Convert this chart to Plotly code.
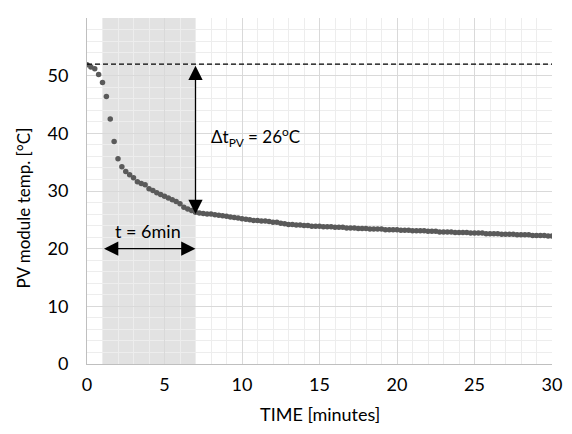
import plotly.graph_objects as go

# sample times [minutes] and PV module temperature [C]
time_min = [
    0.0, 0.25, 0.5, 0.75, 1.0, 1.25, 1.5, 1.75, 2.0, 2.25, 2.5, 2.75,
    3.0, 3.25, 3.5, 3.75, 4.0, 4.25, 4.5, 4.75, 5.0, 5.25, 5.5, 5.75,
    6.0, 6.25, 6.5, 6.75, 7.0, 7.25, 7.5, 7.75, 8.0, 8.25, 8.5, 8.75,
    9.0, 9.25, 9.5, 9.75, 10.0, 10.25, 10.5, 10.75, 11.0, 11.25, 11.5, 11.75,
    12.0, 12.25, 12.5, 12.75, 13.0, 13.25, 13.5, 13.75, 14.0, 14.25, 14.5, 14.75,
    15.0, 15.25, 15.5, 15.75, 16.0, 16.25, 16.5, 16.75, 17.0, 17.25, 17.5, 17.75,
    18.0, 18.25, 18.5, 18.75, 19.0, 19.25, 19.5, 19.75, 20.0, 20.25, 20.5, 20.75,
    21.0, 21.25, 21.5, 21.75, 22.0, 22.25, 22.5, 22.75, 23.0, 23.25, 23.5, 23.75,
    24.0, 24.25, 24.5, 24.75, 25.0, 25.25, 25.5, 25.75, 26.0, 26.25, 26.5, 26.75,
    27.0, 27.25, 27.5, 27.75, 28.0, 28.25, 28.5, 28.75, 29.0, 29.25, 29.5, 29.75,
    30.0,
]
temp_pv = [
    51.9, 51.5, 51.2, 50.2, 48.8, 46.4, 42.5, 38.6, 35.6, 34.2, 33.4, 32.8,
    32.3, 31.6, 31.3, 31.1, 30.4, 30.1, 29.7, 29.4, 29.1, 28.8, 28.5, 28.2,
    27.8, 27.2, 26.9, 26.6, 26.3, 26.2, 26.1, 26.0, 26.0, 25.9, 25.8, 25.7,
    25.6, 25.5, 25.4, 25.3, 25.2, 25.1, 25.0, 24.9, 24.9, 24.8, 24.8, 24.7,
    24.6, 24.6, 24.4, 24.3, 24.2, 24.2, 24.1, 24.1, 24.0, 24.0, 23.9, 23.9,
    23.9, 23.8, 23.8, 23.8, 23.7, 23.7, 23.7, 23.6, 23.6, 23.6, 23.5, 23.5,
    23.5, 23.4, 23.4, 23.4, 23.4, 23.3, 23.3, 23.3, 23.3, 23.2, 23.2, 23.2,
    23.1, 23.1, 23.1, 23.1, 23.0, 23.0, 23.0, 22.9, 22.9, 22.9, 22.9, 22.8,
    22.8, 22.8, 22.8, 22.7, 22.7, 22.7, 22.7, 22.6, 22.6, 22.6, 22.6, 22.5,
    22.5, 22.5, 22.5, 22.4, 22.4, 22.4, 22.4, 22.3, 22.3, 22.3, 22.3, 22.2,
    22.2,
]

t_start = 1      # start of shaded cooling window
t_end = 7        # end of shaded cooling window
t_top = 52       # initial temperature (dashed line)
t_bottom = 26    # temperature after cooling

font_name = "Lato"
txt = dict(family=font_name, size=18, color="black")

fig = go.Figure()

fig.add_trace(go.Scatter(
    x=time_min, y=temp_pv, mode="markers",
    marker=dict(color="#5a5a5a", size=5.5),
    showlegend=False,
))

# shaded window
fig.add_shape(type="rect", xref="x", yref="y",
              x0=t_start, x1=t_end, y0=0, y1=60,
              fillcolor="#e2e2e2", line_width=0, layer="below")

# dashed reference line
fig.add_shape(type="line", xref="x", yref="y",
              x0=0, x1=30, y0=t_top, y1=t_top,
              line=dict(color="black", width=1.3, dash="5px,3px"))

# vertical double arrow
fig.add_annotation(x=t_end, y=t_bottom, ax=t_end, ay=t_top,
                   xref="x", yref="y", axref="x", ayref="y",
                   text="", showarrow=True, arrowhead=2, startarrowhead=2,
                   arrowside="end+start", arrowsize=2.2, startarrowsize=2.2,
                   arrowwidth=1.3, arrowcolor="black")

# horizontal double arrow
fig.add_annotation(x=t_end, y=20, ax=t_start, ay=20,
                   xref="x", yref="y", axref="x", ayref="y",
                   text="", showarrow=True, arrowhead=2, startarrowhead=2,
                   arrowside="end+start", arrowsize=2.2, startarrowsize=2.2,
                   arrowwidth=1.3, arrowcolor="black")

fig.add_annotation(x=3.95, y=23, xref="x", yref="y", showarrow=False,
                   text="t = 6min", font=txt)
fig.add_annotation(x=7.85, y=39.3, xref="x", yref="y", showarrow=False, xanchor="left",
                   text="Δt<sub>PV</sub> = 26<sup>o</sup>C", font=dict(family=font_name, size=17, color="black"))

# axis titles placed as annotations
fig.add_annotation(x=-0.137, y=0.45, xref="paper", yref="paper", showarrow=False,
                   xanchor="center", yanchor="middle",
                   textangle=-90, text="PV module temp. [°C]", font=dict(family=font_name, size=17, color="black"))
fig.add_annotation(x=0.5, y=-0.145, xref="paper", yref="paper", showarrow=False,
                   xanchor="center", yanchor="middle",
                   text="TIME [minutes]", font=txt)

fig.update_xaxes(
    range=[0, 30], tick0=0, dtick=5, showgrid=True, gridcolor="#d9d9d9", gridwidth=1,
    minor=dict(dtick=1, showgrid=True, gridcolor="#ededed", gridwidth=1),
    showline=True, linecolor="#bfbfbf", linewidth=1, zeroline=False,
    ticks="", ticklabelstandoff=4, tickfont=txt,
)
fig.update_yaxes(
    range=[0, 60], tick0=0, dtick=10, showgrid=True, gridcolor="#d9d9d9", gridwidth=1,
    minor=dict(dtick=2, showgrid=True, gridcolor="#ededed", gridwidth=1),
    showline=True, linecolor="#bfbfbf", linewidth=1, zeroline=False,
    ticks="", ticklabelstandoff=14, tickfont=txt,
)

# page body has an 8px margin, so size the figure to fit inside the window
fig.update_layout(
    width=564, height=418,
    margin=dict(l=79, r=13, t=10, b=62),
    plot_bgcolor="white", paper_bgcolor="white",
    font=dict(family=font_name),
)

fig.write_html("out.html")
